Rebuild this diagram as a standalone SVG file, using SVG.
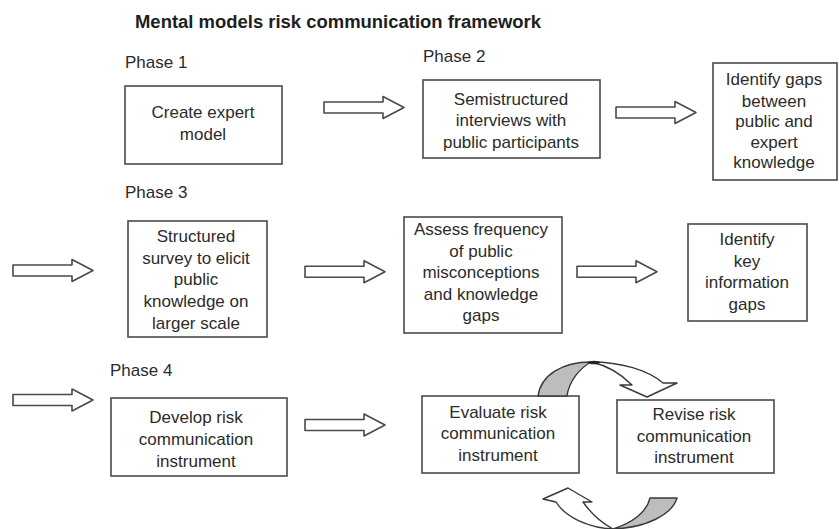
<svg xmlns="http://www.w3.org/2000/svg" width="839" height="529" viewBox="0 0 839 529">
  <style>
    .title { font-family: "Liberation Sans", Arial, sans-serif; font-size: 18px; font-weight: bold; fill: #1e1e1e; }
    .lbl { font-family: "Liberation Sans", Arial, sans-serif; font-size: 17px; fill: #2b2b2b; }
    .ctr { text-anchor: middle; }
    .box { fill: #ffffff; stroke: #4a4a4a; stroke-width: 1.6; }
    .blk { fill: #ffffff; stroke: #4a4a4a; stroke-width: 1.6; stroke-linejoin: round; }
    .back { fill: #bdbdbd; stroke: #3a3a3a; stroke-width: 1.4; stroke-linejoin: round; }
    .front { fill: #ffffff; stroke: #3a3a3a; stroke-width: 1.4; stroke-linejoin: round; }
  </style>
  <defs>
    <!-- hollow block arrow pointing right, origin at tail centre -->
    <path id="blockArrow" class="blk" d="M0,-5.5 H59 V-11 L80,0 L59,11 V5.5 H0 Z"/>
  </defs>

  <rect width="839" height="529" fill="#ffffff"/>

  <text class="title" x="135" y="28" textLength="406" lengthAdjust="spacingAndGlyphs">Mental models risk communication framework</text>

  <!-- phase headings -->
  <text class="lbl" x="125" y="68">Phase 1</text>
  <text class="lbl" x="423" y="62">Phase 2</text>
  <text class="lbl" x="125" y="198">Phase 3</text>
  <text class="lbl" x="110" y="376">Phase 4</text>

  <!-- Phase 1 / 2 row -->
  <g id="create-expert-model">
    <rect class="box" x="125" y="86" width="157" height="78"/>
    <text class="lbl ctr" x="203" y="118">Create expert</text>
    <text class="lbl ctr" x="203" y="139.5">model</text>
  </g>
  <g id="semistructured-interviews">
    <rect class="box" x="423" y="80" width="177" height="78"/>
    <text class="lbl ctr" x="511" y="104.5">Semistructured</text>
    <text class="lbl ctr" x="511" y="126">interviews with</text>
    <text class="lbl ctr" x="511" y="147.5">public participants</text>
  </g>
  <g id="identify-gaps">
    <rect class="box" x="713" y="63" width="124" height="117"/>
    <text class="lbl ctr" x="774" y="85">Identify gaps</text>
    <text class="lbl ctr" x="774" y="106.5">between</text>
    <text class="lbl ctr" x="774" y="127">public and</text>
    <text class="lbl ctr" x="774" y="147.5">expert</text>
    <text class="lbl ctr" x="774" y="168">knowledge</text>
  </g>

  <!-- Phase 3 row -->
  <g id="structured-survey">
    <rect class="box" x="128" y="221" width="139" height="116"/>
    <text class="lbl ctr" x="196" y="242">Structured</text>
    <text class="lbl ctr" x="196" y="264">survey to elicit</text>
    <text class="lbl ctr" x="196" y="285">public</text>
    <text class="lbl ctr" x="196" y="307">knowledge on</text>
    <text class="lbl ctr" x="196" y="328.5">larger scale</text>
  </g>
  <g id="assess-frequency">
    <rect class="box" x="404" y="217" width="158" height="116"/>
    <text class="lbl ctr" x="481" y="235">Assess frequency</text>
    <text class="lbl ctr" x="481" y="256.5">of public</text>
    <text class="lbl ctr" x="481" y="278">misconceptions</text>
    <text class="lbl ctr" x="481" y="299.5">and knowledge</text>
    <text class="lbl ctr" x="481" y="321">gaps</text>
  </g>
  <g id="key-information-gaps">
    <rect class="box" x="688" y="224" width="119" height="97"/>
    <text class="lbl ctr" x="747" y="245">Identify</text>
    <text class="lbl ctr" x="747" y="266.5">key</text>
    <text class="lbl ctr" x="747" y="288">information</text>
    <text class="lbl ctr" x="747" y="309.5">gaps</text>
  </g>

  <!-- Phase 4 row -->
  <g id="develop-instrument">
    <rect class="box" x="111" y="398" width="176" height="78"/>
    <text class="lbl ctr" x="196" y="423">Develop risk</text>
    <text class="lbl ctr" x="196" y="445">communication</text>
    <text class="lbl ctr" x="196" y="467">instrument</text>
  </g>
  <g id="evaluate-instrument">
    <rect class="box" x="422" y="396" width="157" height="77"/>
    <text class="lbl ctr" x="498" y="417.5">Evaluate risk</text>
    <text class="lbl ctr" x="498" y="439">communication</text>
    <text class="lbl ctr" x="498" y="460.5">instrument</text>
  </g>
  <g id="revise-instrument">
    <rect class="box" x="617" y="400" width="157" height="73"/>
    <text class="lbl ctr" x="694" y="420">Revise risk</text>
    <text class="lbl ctr" x="694" y="441.5">communication</text>
    <text class="lbl ctr" x="694" y="463">instrument</text>
  </g>

  <g id="connectors">
    <use href="#blockArrow" transform="translate(324,107.5)"/>
    <use href="#blockArrow" transform="translate(616,112.5)"/>
    <use href="#blockArrow" transform="translate(13,270.5)"/>
    <use href="#blockArrow" transform="translate(305,271.7)"/>
    <use href="#blockArrow" transform="translate(577,271.7)"/>
    <use href="#blockArrow" transform="translate(13,400)"/>
    <use href="#blockArrow" transform="translate(305,425)"/>

    <!-- evaluate -> revise: twisted ribbon arrow over the top -->
    <g id="loop-top">
      <path class="back" d="M538,396 C541,375 562,362 591,362 C580,368 569,381 567,396 Z"/>
      <path class="front" d="M591,362 C621,362 648,370 663,383 L677,383 L647,397 L620,385 L632,385 C619,372 605,365 591,362 Z"/>
      <ellipse cx="594" cy="362.5" rx="6" ry="1.8" fill="#222222"/>
    </g>
    <!-- revise -> evaluate: twisted ribbon arrow underneath -->
    <g id="loop-bottom">
      <path class="back" d="M613,529 C645,528 672,515 677,498 L650,498 C647,512 632,523 613,529 Z"/>
      <path class="front" d="M556,502 C566,518 590,528 613,529 C600,522 590,512 583,502 L592,502 L568,488 L543,499 Z"/>
    </g>
  </g>
</svg>
